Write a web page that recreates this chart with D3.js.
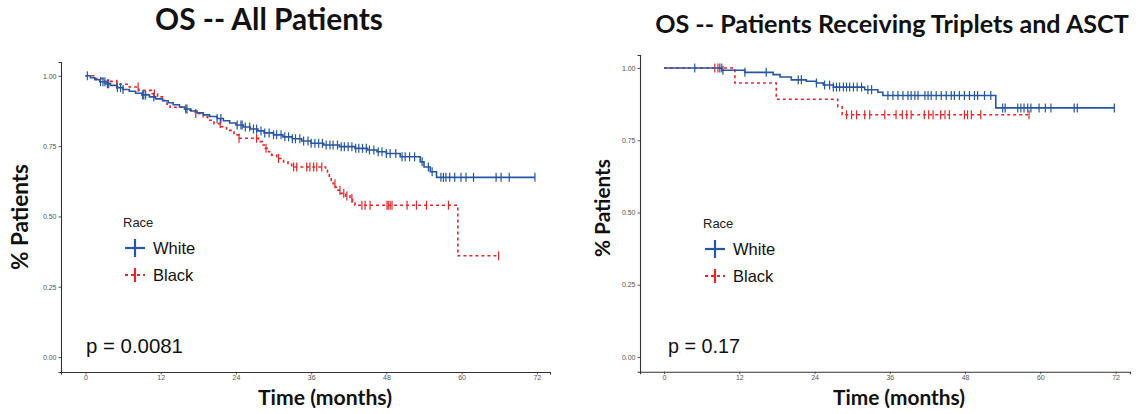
<!DOCTYPE html>
<html><head><meta charset="utf-8">
<script src="https://cdn.jsdelivr.net/npm/d3@7"></script>
<style>body{margin:0;background:#fff}svg{display:block}</style>
</head><body>
<svg id="chart" width="1136" height="414"></svg>
<script>
// ---------------- DATA ----------------
const timeTicks = [0, 12, 24, 36, 48, 60, 72];
const survTicks = [0, 0.25, 0.5, 0.75, 1];
const survTickLabels = ["0.00", "0.25", "0.50", "0.75", "1.00"];
const raceLabels = ["White", "Black"];
const titles = ["OS -- All Patients", "OS -- Patients Receiving Triplets and ASCT"];
const pValues = ["p = 0.0081", "p = 0.17"];

// All patients, White: [time, survival] at each drop
const allWhiteSteps = [[0,1.0],[0.8,0.993],[1.5,0.986],[2.3,0.979],[3.2,0.972],[4.0,0.966],[5.0,0.958],[6.0,0.951],[7.0,0.945],[8.0,0.938],[9.0,0.932],[10.2,0.925],[11.2,0.918],[12.3,0.911],[13.2,0.904],[14.0,0.897],[15.0,0.889],[15.8,0.882],[16.8,0.875],[17.8,0.868],[18.8,0.861],[19.8,0.855],[21.0,0.848],[22.0,0.840],[23.0,0.832],[24.0,0.825],[25.2,0.818],[26.3,0.811],[27.5,0.804],[28.5,0.797],[30.0,0.790],[31.5,0.783],[33.0,0.776],[34.5,0.768],[36.0,0.760],[38.0,0.754],[40.5,0.748],[43.0,0.742],[45.0,0.736],[46.5,0.730],[48.0,0.724],[50.2,0.712],[53.4,0.694],[54.0,0.676],[55.0,0.659],[56.0,0.639]];
const allWhiteEnd = 71.7;
const allWhiteCensor = [0.3,2.4,2.8,3.1,3.5,3.7,5.1,5.6,6.0,9.1,9.3,9.6,10.9,16.0,16.2,21.0,21.6,24.2,24.8,25.0,25.5,26.2,26.8,27.3,28.0,28.6,29.3,30.0,30.5,31.2,31.8,32.4,33.0,33.5,34.2,34.8,35.5,36.0,36.6,37.2,37.8,38.4,39.0,39.5,40.2,40.8,41.3,41.9,42.5,43.1,43.6,44.2,44.8,45.3,46.0,46.7,47.3,48.0,48.6,49.5,50.5,51.0,51.7,52.5,53.7,54.7,55.3,56.7,57.1,57.5,58.1,58.9,59.9,60.7,61.9,65.5,66.3,67.6,71.7];

// All patients, Black
const allBlackSteps = [[0,1.0],[1.5,0.99],[3.0,0.98],[5.0,0.97],[7.0,0.96],[8.5,0.948],[10.5,0.936],[11.5,0.925],[12.5,0.912],[13.0,0.899],[13.5,0.888],[16.0,0.878],[17.5,0.866],[18.8,0.854],[19.5,0.842],[20.5,0.830],[21.6,0.819],[22.5,0.806],[23.7,0.790],[24.5,0.778],[27.6,0.766],[28.2,0.754],[28.7,0.742],[29.2,0.730],[29.7,0.718],[30.5,0.706],[31.6,0.694],[32.3,0.685],[32.9,0.676],[38.3,0.664],[38.6,0.652],[38.9,0.640],[39.2,0.628],[39.5,0.616],[39.9,0.604],[40.3,0.593],[40.7,0.582],[41.5,0.573],[42.2,0.564],[42.6,0.552],[43.0,0.540],[59.4,0.36]];
const allBlackEnd = 65.9;
const allBlackCensor = [5.0,8.4,11.0,17.6,21.5,24.5,27.3,28.8,30.8,33.2,33.7,35.3,35.8,36.4,36.9,37.7,39.8,40.6,41.2,41.7,42.5,44.1,44.6,45.4,48.1,48.3,48.6,48.9,51.3,52.8,54.4,57.9,65.9];

// Triplets + ASCT, White
const tripWhiteSteps = [[0,1.0],[9.2,0.992],[12.9,0.985],[17.4,0.977],[18.5,0.969],[20.3,0.959],[22.7,0.954],[24.3,0.948],[25.4,0.941],[27.0,0.934],[32.0,0.925],[34.1,0.916],[34.9,0.905],[52.9,0.862]];
const tripWhiteEnd = 71.8;
const tripWhiteCensor = [4.9,8.9,9.4,12.9,16.3,21.4,21.9,24.3,25.6,26.4,27.0,27.5,28.0,28.6,29.1,29.6,30.2,30.8,31.5,32.5,33.1,35.7,36.5,37.3,38.1,38.9,39.4,40.0,40.5,41.6,42.1,42.6,43.4,44.2,45.0,45.8,46.3,47.1,47.9,48.7,49.5,50.0,51.1,52.1,54.0,54.4,56.4,56.9,57.4,58.0,58.5,59.8,60.8,61.7,65.4,65.9,71.8];

// Triplets + ASCT, Black
const tripBlackSteps = [[0,1.0],[11.3,0.948],[17.9,0.892],[27.7,0.866],[28.4,0.838]];
const tripBlackEnd = 58.2;
const tripBlackCensor = [8.1,8.6,9.2,29.1,29.9,30.7,32.0,32.8,35.2,37.0,38.0,38.7,39.4,41.5,42.2,42.9,44.1,44.8,45.5,47.9,48.4,49.0,50.5,58.2];

// ---------------- LAYOUT / STYLE ----------------
const colors = {White: "#2756a3", Black: "#e8262a"};
const panels = [
  {title: titles[0], p: pValues[0], titleX: 269, titleY: 30, titleW: 228,
   xDom: [-3.9, 74.1], xRng: [61, 550], yDom: [-0.053, 1.049], yRng: [372, 62],
   ylabX: 20, ylabY: 217, ylabW: 106, xlabX: 325, xlabY: 405, xlabW: 134,
   legX: 123, legY: 227, pX: 86, pY: 353, pW: 97,
   series: [
     {name: "White", steps: allWhiteSteps, end: allWhiteEnd, censor: allWhiteCensor},
     {name: "Black", steps: allBlackSteps, end: allBlackEnd, censor: allBlackCensor}]},
  {title: titles[1], p: pValues[1], titleX: 892, titleY: 33, titleW: 474,
   xDom: [-3.83, 74.3], xRng: [640, 1130], yDom: [-0.051, 1.045], yRng: [371.7, 55],
   ylabX: 603, ylabY: 208, ylabW: 98, xlabX: 899, xlabY: 405, xlabW: 132,
   legX: 703, legY: 228, pX: 668, pY: 353, pW: 72,
   series: [
     {name: "White", steps: tripWhiteSteps, end: tripWhiteEnd, censor: tripWhiteCensor},
     {name: "Black", steps: tripBlackSteps, end: tripBlackEnd, censor: tripBlackCensor}]}
];

const svg = d3.select("#chart");
const boldFont = "Lato, 'Open Sans', sans-serif";
const plainFont = "'Liberation Sans', Arial, sans-serif";

function fit(sel, target) {
  const w = sel.node().getComputedTextLength();
  const fs = parseFloat(sel.attr("font-size"));
  sel.attr("font-size", (fs * target / w).toFixed(2));
}

function survAt(steps, t) {
  let s = steps[0][1];
  for (const [tt, ss] of steps) { if (tt <= t) s = ss; else break; }
  return s;
}

panels.forEach(P => {
  const x = d3.scaleLinear().domain(P.xDom).range(P.xRng);
  const y = d3.scaleLinear().domain(P.yDom).range(P.yRng);
  const g = svg.append("g");

  // title
  const t = g.append("text").attr("x", P.titleX).attr("y", P.titleY)
    .attr("text-anchor", "middle").attr("font-family", boldFont).attr("font-weight", "bold")
    .attr("font-size", 24).attr("fill", "#111").text(P.title);
  fit(t, P.titleW);

  // axes
  const xAxis = d3.axisBottom(x).tickValues(timeTicks).tickSize(2.5).tickPadding(1).tickFormat(d3.format("d"));
  const yAxis = d3.axisLeft(y).tickValues(survTicks).tickSize(2.5).tickPadding(2)
    .tickFormat(d => survTickLabels[survTicks.indexOf(d)]);
  const gx = g.append("g").attr("transform", `translate(0,${P.yRng[0]})`).call(xAxis);
  const gy = g.append("g").attr("transform", `translate(${P.xRng[0]},0)`).call(yAxis);
  [gx, gy].forEach(a => {
    a.select(".domain").attr("stroke", "#333").attr("stroke-width", 1.1);
    a.selectAll(".tick line").attr("stroke", "#333").attr("stroke-width", 0.8);
    a.selectAll(".tick text").attr("fill", "#555").attr("font-size", 7).attr("font-family", plainFont);
  });

  // axis titles
  const yl = g.append("text").attr("transform", `translate(${P.ylabX},${P.ylabY}) rotate(-90)`)
    .attr("text-anchor", "middle").attr("dy", "0.35em").attr("font-family", boldFont).attr("font-weight", "bold")
    .attr("font-size", 21).attr("fill", "#111").text("% Patients");
  fit(yl, P.ylabW);
  const xl = g.append("text").attr("x", P.xlabX).attr("y", P.xlabY)
    .attr("text-anchor", "middle").attr("font-family", boldFont).attr("font-weight", "bold")
    .attr("font-size", 20).attr("fill", "#111").text("Time (months)");
  fit(xl, P.xlabW);

  // curves (Black underneath, White on top)
  const line = d3.line().x(d => x(d[0])).y(d => y(d[1])).curve(d3.curveStepAfter);
  P.series.slice().reverse().forEach(S => {
    const pts = S.steps.concat([[S.end, S.steps[S.steps.length - 1][1]]]);
    const dashed = S.name === "Black";
    g.append("path").datum(pts).attr("d", line).attr("fill", "none")
      .attr("stroke", colors[S.name]).attr("stroke-width", 1.6)
      .attr("stroke-dasharray", dashed ? "3,3" : null);
    g.append("g").selectAll("line").data(S.censor).join("line")
      .attr("x1", d => x(d)).attr("x2", d => x(d))
      .attr("y1", d => y(survAt(S.steps, d)) - 4.5).attr("y2", d => y(survAt(S.steps, d)) + 4.5)
      .attr("stroke", colors[S.name]).attr("stroke-width", 1.2);
  });

  // legend
  g.append("text").attr("x", P.legX).attr("y", P.legY).attr("font-family", plainFont)
    .attr("font-size", 13).attr("fill", "#222").text("Race");
  raceLabels.forEach((name, i) => {
    const cy = P.legY + 21 + i * 27;
    const cx = P.legX + 12;
    const dashed = name === "Black";
    g.append("line").attr("x1", cx - 10).attr("x2", cx + 10).attr("y1", cy).attr("y2", cy)
      .attr("stroke", colors[name]).attr("stroke-width", 2.2).attr("stroke-dasharray", dashed ? "3,3" : null);
    g.append("line").attr("x1", cx).attr("x2", cx).attr("y1", cy - (dashed ? 7 : 9)).attr("y2", cy + (dashed ? 7 : 9))
      .attr("stroke", colors[name]).attr("stroke-width", 2.2);
    g.append("text").attr("x", P.legX + 30).attr("y", cy + 6).attr("font-family", plainFont)
      .attr("font-size", 16.5).attr("fill", "#111").text(name);
  });

  // p value
  const pv = g.append("text").attr("x", P.pX).attr("y", P.pY).attr("font-family", plainFont)
    .attr("font-size", 20).attr("fill", "#111").text(P.p);
  fit(pv, P.pW);
});
</script>
</body></html>
